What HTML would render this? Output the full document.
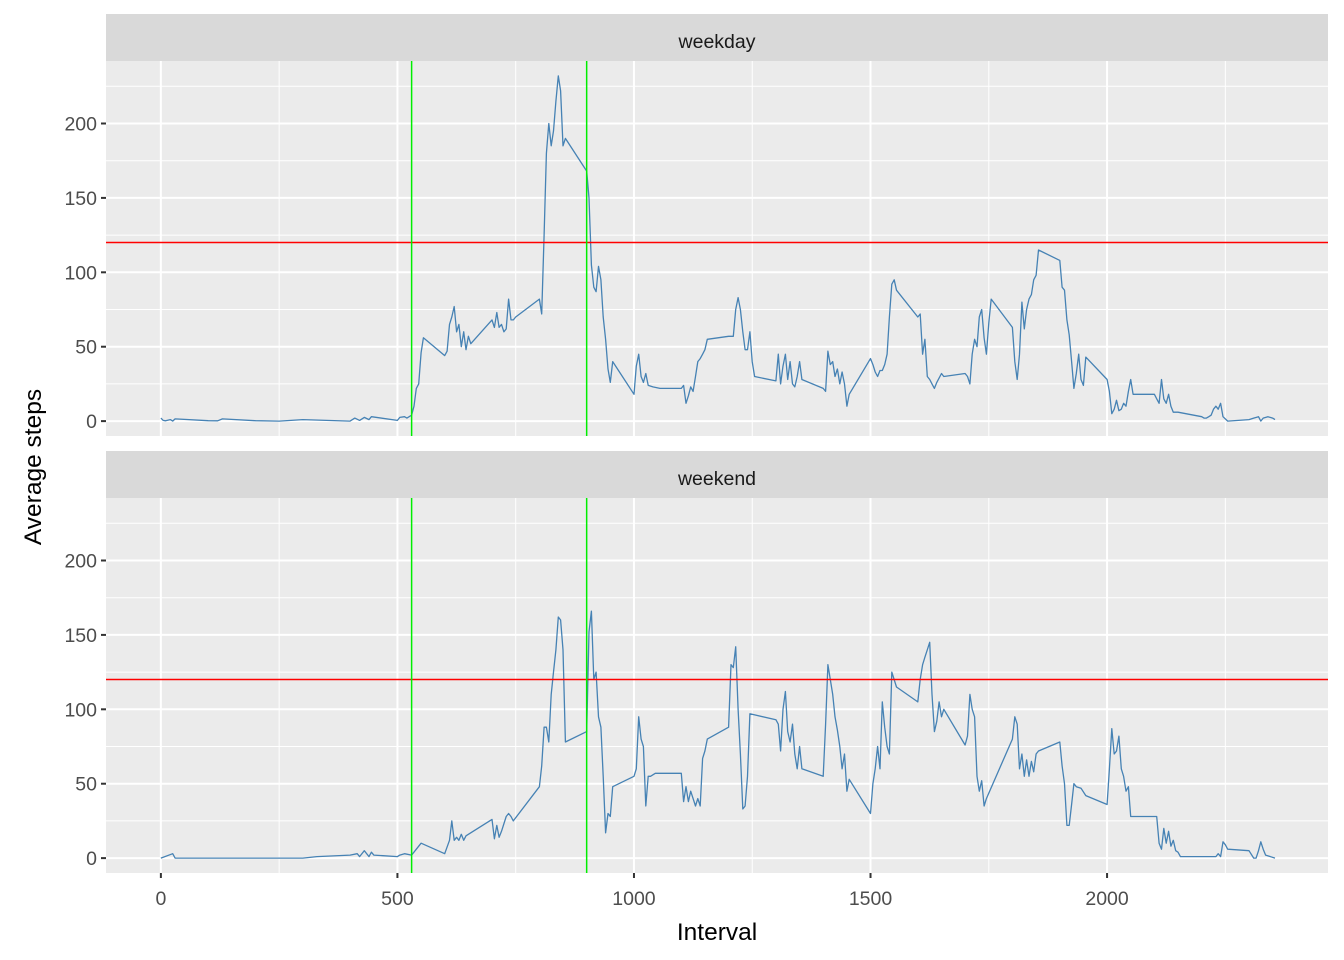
<!DOCTYPE html>
<html><head><meta charset="utf-8"><style>
body{margin:0;background:#fff;}
svg{display:block;font-family:"Liberation Sans",sans-serif;}
</style></head><body>
<svg id="c" width="1344" height="960"></svg>
<script>
const wdInterval=[0,5,10,20,25,30,100,120,130,200,250,300,400,410,420,430,440,445,500,505,515,520,530,535,540,545,550,555,600,605,610,615,620,625,630,635,640,645,650,655,700,705,710,715,720,725,730,735,740,745,750,800,805,810,815,820,825,830,835,840,845,850,855,900,905,910,915,920,925,930,935,940,945,950,955,1000,1005,1010,1015,1020,1025,1030,1040,1055,1100,1105,1110,1115,1120,1125,1130,1135,1140,1145,1150,1155,1200,1205,1210,1215,1220,1225,1230,1235,1240,1245,1250,1255,1300,1305,1310,1315,1320,1325,1330,1335,1340,1345,1350,1355,1400,1405,1410,1415,1420,1425,1430,1435,1440,1445,1450,1455,1500,1505,1510,1515,1520,1525,1530,1535,1540,1545,1550,1555,1600,1605,1610,1615,1620,1625,1630,1635,1640,1650,1655,1700,1705,1710,1715,1720,1725,1730,1735,1740,1745,1750,1755,1800,1805,1810,1815,1820,1825,1830,1835,1840,1845,1850,1855,1900,1905,1910,1915,1920,1925,1930,1935,1940,1945,1950,1955,2000,2005,2010,2015,2020,2025,2030,2035,2040,2045,2050,2055,2100,2105,2110,2115,2120,2125,2130,2135,2140,2150,2200,2205,2210,2215,2220,2225,2230,2235,2240,2245,2255,2300,2310,2320,2325,2330,2340,2350,2355];
const wdSteps=[2,0.5,0.2,1,0,1.5,0.3,0.2,1.5,0.3,0,1,0,2,0.5,2.5,1,3,0.5,2.5,3,2,4,10,22,25,46,56,44,47,65,70,77,60,65,50,60,48,57,52,68,63,73,63,65,60,62,82,68,68,70,82,72,125,180,200,185,195,215,232,222,185,190,168,150,105,90,87,104,95,70,55,35,26,40,18,37,45,30,26,32,24,23,22,22,24,12,17,23,20,30,40,42,45,48,55,57,57,57,75,83,75,60,48,48,60,40,30,27,45,25,37,45,28,40,25,23,30,40,28,22,20,47,38,40,30,35,25,33,25,10,18,42,38,33,30,34,34,38,45,70,92,95,88,70,72,45,55,30,28,25,22,26,32,30,32,30,25,45,55,50,70,75,56,45,66,82,63,40,28,45,80,62,75,82,85,95,98,115,108,90,88,68,58,40,22,32,45,28,24,43,28,20,5,8,14,7,8,12,10,20,28,18,18,15,12,28,15,12,18,10,6,6,3,2,2,3,4,8,10,8,12,3,0,1,2,3,0,2,3,2,1,0,1];
const weInterval=[0,25,30,100,300,330,400,415,420,430,440,445,450,500,505,515,530,540,550,600,610,615,620,625,630,635,640,645,700,705,710,715,720,730,735,740,745,800,805,810,815,820,825,830,835,840,845,850,855,900,905,910,915,920,925,930,935,940,945,950,955,1000,1005,1010,1015,1020,1025,1030,1035,1040,1045,1100,1105,1110,1115,1120,1125,1130,1135,1140,1145,1150,1155,1200,1205,1210,1215,1220,1225,1230,1235,1240,1245,1300,1305,1310,1315,1320,1325,1330,1335,1340,1345,1350,1355,1400,1405,1410,1415,1420,1425,1430,1435,1440,1445,1450,1455,1500,1505,1510,1515,1520,1525,1530,1535,1540,1545,1555,1600,1605,1610,1615,1620,1625,1630,1635,1640,1645,1650,1655,1700,1705,1710,1715,1720,1725,1730,1735,1740,1745,1800,1805,1810,1815,1820,1825,1830,1835,1840,1845,1850,1855,1900,1905,1910,1915,1920,1925,1930,1935,1945,1955,2000,2005,2010,2015,2020,2025,2030,2035,2040,2045,2050,2105,2110,2115,2120,2125,2130,2135,2140,2145,2150,2155,2230,2235,2240,2245,2250,2255,2300,2310,2315,2320,2325,2330,2335,2355];
const weSteps=[0,3,0,0,0,1,2,3,1,5,1,4,2,1,2,3,2,6,10,3,12,25,12,14,12,16,12,15,26,13,22,14,18,28,30,28,25,48,62,88,88,78,110,125,140,162,160,140,78,85,152,166,120,125,95,88,55,17,30,28,48,55,60,95,80,75,35,55,55,56,57,57,38,48,38,45,40,35,40,35,67,72,80,88,130,128,142,100,70,33,35,55,97,93,90,72,100,112,85,78,90,70,60,75,60,55,90,130,120,110,95,86,75,60,70,45,53,30,50,60,75,60,105,88,75,70,125,115,105,120,130,135,140,145,110,85,92,105,95,100,76,82,110,100,95,55,45,52,35,40,80,95,90,60,70,55,66,55,65,58,70,72,78,62,50,22,22,36,50,48,47,42,36,60,87,70,72,82,60,55,45,48,28,28,10,6,20,10,18,8,12,5,4,1,1,3,1,11,9,6,5,0,0,5,11,6,2,0,0];
const xTicks=[0,500,1000,1500,2000];
const yTicks=[0,50,100,150,200];
const panelLabels=["weekday","weekend"];
const hLineValue=120, vLineValues=[530,900];

const NS="http://www.w3.org/2000/svg", svg=document.getElementById('c');
function el(t,a,p){const e=document.createElementNS(NS,t);for(const k in a)e.setAttribute(k,a[k]);(p||svg).appendChild(e);return e;}
const L=106,R=1328,xmin=-116,xmax=2467;
const X=v=>L+(v-xmin)/(xmax-xmin)*(R-L);
const panels=[{top:61,bot:436,stripTop:14,xs:wdInterval,ys:wdSteps},{top:498,bot:873,stripTop:451,xs:weInterval,ys:weSteps}];
const ymin=-10,ymax=242;
panels.forEach((p,i)=>{
  const Y=v=>p.bot-(v-ymin)/(ymax-ymin)*(p.bot-p.top);
  const g=el('g',{});
  
  
  const s=el('rect',{x:L,y:p.stripTop,width:R-L,height:p.top-p.stripTop,fill:'#d9d9d9'},g);
  
  
  const st=el('text',{x:(L+R)/2,y:p.stripTop+34,'text-anchor':'middle','font-size':'19.5',fill:'#1a1a1a'},g);st.textContent=panelLabels[i];
  
  
  el('rect',{x:L,y:p.top,width:R-L,height:p.bot-p.top,fill:'#ebebeb'},g);
  [250,750,1250,1750,2250].forEach(v=>el('line',{x1:X(v),x2:X(v),y1:p.top,y2:p.bot,stroke:'#fff','stroke-width':1},g));
  [25,75,125,175,225].forEach(v=>el('line',{x1:L,x2:R,y1:Y(v),y2:Y(v),stroke:'#fff','stroke-width':1},g));
  xTicks.forEach(v=>el('line',{x1:X(v),x2:X(v),y1:p.top,y2:p.bot,stroke:'#fff','stroke-width':2},g));
  yTicks.forEach(v=>{
    el('line',{x1:L,x2:R,y1:Y(v),y2:Y(v),stroke:'#fff','stroke-width':2},g);
    el('line',{x1:L-5,x2:L,y1:Y(v),y2:Y(v),stroke:'#333','stroke-width':2},g);
    const t=el('text',{x:L-9,y:Y(v)+7,'text-anchor':'end','font-size':'19.5',fill:'#4d4d4d'},g);t.textContent=v;
    
    
  });
  const d=p.xs.map((x,j)=>(j?'L':'M')+X(x).toFixed(1)+','+Y(p.ys[j]).toFixed(1)).join('');
  const ln=el('path',{d:d,fill:'none',stroke:'#4682b4','stroke-width':1.3,'stroke-linejoin':'round'},g);
  
  
  const hl=el('line',{x1:L,x2:R,y1:Y(hLineValue),y2:Y(hLineValue),stroke:'#ff0000','stroke-width':1.5},g);
  
  
  vLineValues.forEach(v=>{
    const vl=el('line',{x1:X(v),x2:X(v),y1:p.top,y2:p.bot,stroke:'#00ee00','stroke-width':1.5},g);
    
    
  });
});
xTicks.forEach(v=>{
  el('line',{x1:X(v),x2:X(v),y1:873,y2:878,stroke:'#333','stroke-width':2});
  const t=el('text',{x:X(v),y:905,'text-anchor':'middle','font-size':'19.5',fill:'#4d4d4d'});t.textContent=v;
  
  
});
const xt=el('text',{x:(L+R)/2,y:940,'text-anchor':'middle','font-size':'24.5',fill:'#000'});xt.textContent='Interval';


const yt=el('text',{x:0,y:0,'text-anchor':'middle','font-size':'24.5',fill:'#000',transform:'translate(41,467) rotate(-90)'});yt.textContent='Average steps';


</script>
</body></html>
